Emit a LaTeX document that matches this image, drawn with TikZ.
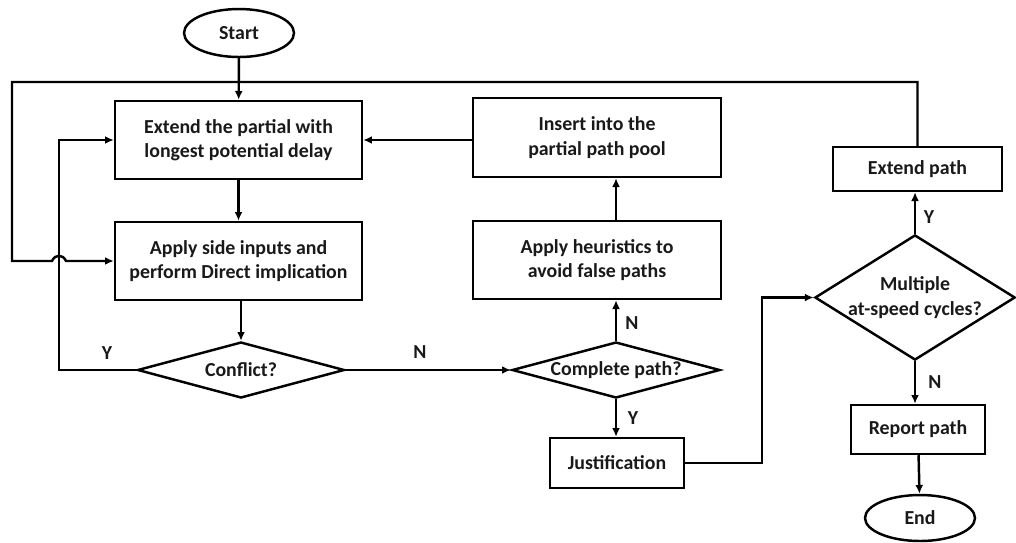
\documentclass[tikz,border=0pt]{standalone}
\usepackage{fontspec}
\setmainfont{Carlito}
\usetikzlibrary{shapes.geometric,arrows.meta}
\begin{document}
\begin{tikzpicture}[x=0.02cm,y=-0.02cm,
  every node/.style={font=\bfseries\fontsize{11.3}{14}\selectfont, text=black!90},
  box/.style={draw, line width=1.4pt, rectangle, align=center, inner sep=0pt},
  term/.style={draw, line width=1.4pt, ellipse, inner sep=0pt},
  dec/.style={draw, line width=1.4pt, diamond, align=center, inner sep=0pt},
  conn/.style={line width=1.4pt},
  arr/.style={conn, -{Latex[length=5pt,width=4.5pt]}},
  lbl/.style={inner sep=1pt}]
\useasboundingbox (0,0) rectangle (1016,542);
% nodes
\node[term, minimum width=2.2cm, minimum height=0.96cm] (start) at (239,33) {Start};
\node[box, minimum width=4.94cm, minimum height=1.56cm] (ext) at (238.5,140) {Extend the partial with\\longest potential delay};
\node[box, minimum width=4.94cm, minimum height=1.56cm] (apply) at (238.5,261) {Apply side inputs and\\perform Direct implication};
\node[dec, shape aspect=3.7, minimum width=4.14cm, minimum height=1.12cm] (conf) at (241,370) {Conflict?};
\node[dec, shape aspect=3.7, minimum width=4.16cm, minimum height=1.12cm] (comp) at (616,370) {Complete path?};
\node[box, minimum width=2.68cm, minimum height=1.0cm] (just) at (617,463) {Justification};
\node[box, minimum width=4.96cm, minimum height=1.56cm] (heur) at (597,260) {Apply heuristics to\\avoid false paths};
\node[box, minimum width=4.96cm, minimum height=1.58cm] (ins) at (597,137.5) {Insert into the\\partial path pool};
\node[dec, shape aspect=1.6, minimum width=4.0cm, minimum height=2.5cm] (mult) at (915,297.5) {Multiple\\at-speed cycles?};
\node[box, minimum width=3.38cm, minimum height=0.88cm] (extp) at (917.5,169) {Extend path};
\node[box, minimum width=2.68cm, minimum height=0.98cm] (rep) at (918,429.5) {Report path};
\node[term, minimum width=2.2cm, minimum height=0.92cm] (endn) at (920,518) {End};
% helper coordinates
\coordinate (tl) at (12,82);
\coordinate (tr) at (917.5,82);
\coordinate (il) at (59,370);
\coordinate (jx) at (762,463);
% connectors
\draw[arr] (start) -- (ext);
\draw[arr] (ext) -- (apply);
\draw[arr] (apply.south -| conf.north) -- (conf.north);
\draw[arr] (conf.west) -- (il) -- (il |- ext.west) -- (ext.west);
\draw[arr] (conf.east) -- (comp.west);
\draw[arr] (comp.north) -- (comp.north |- heur.south);
\draw[arr] (comp.north |- heur.north) -- (comp.north |- ins.south);
\draw[arr] (ins.west |- ext.east) -- (ext.east);
\draw[arr] (comp.south) -- (comp.south |- just.north);
\draw[arr] (just.east) -- (jx) -- (jx |- mult.west) -- (mult.west);
\draw[arr] (mult.north) -- (mult.north |- extp.south);
\draw[arr] (extp.north) -- (tr) -- (tl) -- (tl |- apply.west) -- (52,261)
  .. controls (55,254) and (63,254) .. (66,261) -- (apply.west);
\draw[arr] (mult.south) -- (mult.south |- rep.north);
\draw[arr] (rep) -- (endn);
% labels
\node[lbl] (ly1) at (107,353) {Y};
\node[lbl] (ln1) at (420,352) {N};
\node[lbl] (ln2) at (632,323) {N};
\node[lbl] (ly2) at (633,418) {Y};
\node[lbl] (ly3) at (929,217) {Y};
\node[lbl] (ln3) at (935,382) {N};
\end{tikzpicture}
\end{document}
